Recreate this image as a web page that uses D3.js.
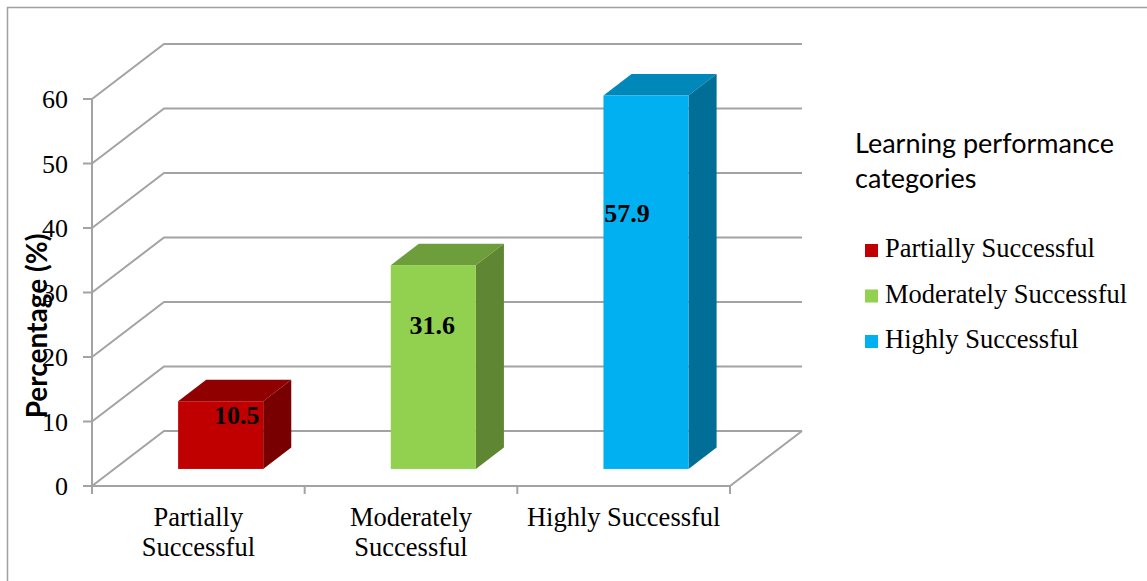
<!DOCTYPE html>
<html>
<head>
<meta charset="utf-8">
<script src="https://cdn.jsdelivr.net/npm/d3@7"></script>
<style>
  body { margin: 0; background: #fff; }
  svg { display: block; }
</style>
</head>
<body>
<div id="chart"></div>
<script>
// data
const categories = ['Partially Successful', 'Moderately Successful', 'Highly Successful'];
const values = [10.5, 31.6, 57.9];
const axisLabels = [['Partially', 'Successful'], ['Moderately', 'Successful'], ['Highly Successful']];
const yTicks = [0, 10, 20, 30, 40, 50, 60];

// colours: front, top, side
const frontColors = ['#C00000', '#92D050', '#00B0F0'];
const topColors = ['#900000', '#6E9E3C', '#0088BA'];
const sideColors = ['#780000', '#5F8733', '#006E96'];

const W = 1147, H = 581;
const svg = d3.select('#chart').append('svg')
    .attr('width', W)
    .attr('height', H);

const serif = '"Liberation Serif", "Times New Roman", serif';
const sans = 'Lato, "Open Sans", sans-serif';

// outer border
svg.append('rect')
    .attr('x', 7.5).attr('y', 7.5)
    .attr('width', W + 20).attr('height', H + 20)
    .attr('fill', 'none')
    .attr('stroke', '#a0a0a0')
    .attr('stroke-width', 1.5);

// 3D depth offset
const dx = 72, dy = -55;

const y = d3.scaleLinear().domain([0, 60]).range([486, 99]);
const x = d3.scaleBand().domain(categories).range([92, 730]).paddingInner(0).paddingOuter(0);

const gridColor = '#a3a3a3';
const grid = svg.append('g').attr('stroke', gridColor).attr('stroke-width', 2).attr('fill', 'none');

// wall gridlines
yTicks.forEach(t => {
    const yy = y(t);
    grid.append('path')
        .attr('d', `M${x.range()[0]},${yy} L${x.range()[0] + dx},${yy + dy} L${x.range()[1] + dx},${yy + dy}`);
});
// floor
grid.append('path')
    .attr('d', `M${x.range()[0]},${y(0)} L${x.range()[1]},${y(0)} L${x.range()[1] + dx},${y(0) + dy}`);
// front axis line
grid.append('line')
    .attr('x1', x.range()[0]).attr('x2', x.range()[0])
    .attr('y1', y(60)).attr('y2', y(0));

// y ticks
const yAxis = svg.append('g');
yTicks.forEach(t => {
    yAxis.append('line')
        .attr('x1', x.range()[0] - 9).attr('x2', x.range()[0])
        .attr('y1', y(t)).attr('y2', y(t))
        .attr('stroke', gridColor).attr('stroke-width', 2);
    yAxis.append('text')
        .attr('x', 68)
        .attr('y', y(t) + 9)
        .attr('text-anchor', 'end')
        .style('font-family', serif)
        .style('font-size', '26px')
        .style('fill', '#000')
        .text(t);
});

// x ticks
const xTickPos = categories.map(c => x(c)).concat([x.range()[1]]);
xTickPos.forEach(px => {
    svg.append('line')
        .attr('x1', px).attr('x2', px)
        .attr('y1', y(0)).attr('y2', y(0) + 8)
        .attr('stroke', gridColor).attr('stroke-width', 2);
});

// category labels
categories.forEach((c, i) => {
    const t = svg.append('text')
        .attr('x', x(c) + x.bandwidth() / 2)
        .attr('y', 526)
        .attr('text-anchor', 'middle')
        .style('font-family', serif)
        .style('font-size', '26.5px')
        .style('fill', '#000');
    axisLabels[i].forEach((line, j) => {
        t.append('tspan')
            .attr('x', x(c) + x.bandwidth() / 2)
            .attr('dy', j === 0 ? 0 : 30)
            .text(line);
    });
});

// bars
const z0 = 0.31, z1 = 0.70;
const barW = x.bandwidth() * 0.4;
const pt = (px, py, z) => [px + z * dx, py + z * dy];
const poly = pts => 'M' + pts.map(p => p.join(',')).join('L') + 'Z';

categories.forEach((c, i) => {
    const xl = x(c) + (x.bandwidth() - barW) / 2;
    const xr = xl + barW;
    const yt = y(values[i]);
    const yb = y(0);
    const g = svg.append('g');
    // top
    g.append('path')
        .attr('d', poly([pt(xl, yt, z0), pt(xr, yt, z0), pt(xr, yt, z1), pt(xl, yt, z1)]))
        .attr('fill', topColors[i]);
    // side
    g.append('path')
        .attr('d', poly([pt(xr, yt, z0), pt(xr, yt, z1), pt(xr, yb, z1), pt(xr, yb, z0)]))
        .attr('fill', sideColors[i]);
    // front
    const f0 = pt(xl, yt, z0);
    const f1 = pt(xr, yb, z0);
    g.append('rect')
        .attr('x', f0[0]).attr('y', f0[1])
        .attr('width', f1[0] - f0[0]).attr('height', f1[1] - f0[1])
        .attr('fill', frontColors[i]);
});

// value labels (placed by hand in the original)
const labelShift = [16, -1, -19];
categories.forEach((c, i) => {
    const cx = x(c) + x.bandwidth() / 2 + z0 * dx + labelShift[i];
    const cy = y(values[i] * 0.66) + z0 * dy;
    svg.append('text')
        .attr('x', cx)
        .attr('y', cy)
        .attr('text-anchor', 'middle')
        .style('font-family', serif)
        .style('font-size', '26px')
        .style('font-weight', 'bold')
        .style('fill', '#000')
        .text(values[i]);
});

// y axis title
svg.append('text')
    .attr('transform', 'translate(47,326) rotate(-90)')
    .attr('text-anchor', 'middle')
    .style('font-family', sans)
    .style('font-size', '28px')
    .style('font-weight', 'bold')
    .style('fill', '#000')
    .text('Percentage (%)');

// legend
const legend = svg.append('g').attr('transform', 'translate(855,0)');
legend.append('text')
    .style('font-family', sans)
    .style('font-size', '27px')
    .style('fill', '#000')
    .selectAll('tspan')
    .data(['Learning performance', 'categories'])
    .enter().append('tspan')
    .attr('x', 0)
    .attr('y', (d, i) => 153 + i * 35)
    .text(d => d);

categories.forEach((c, i) => {
    const ly = 257 + i * 45.5;
    legend.append('rect')
        .attr('x', 10).attr('y', ly - 13)
        .attr('width', 13).attr('height', 13)
        .attr('fill', frontColors[i]);
    legend.append('text')
        .attr('x', 30)
        .attr('y', ly)
        .style('font-family', serif)
        .style('font-size', '26.5px')
        .style('fill', '#000')
        .text(c);
});
</script>
</body>
</html>
